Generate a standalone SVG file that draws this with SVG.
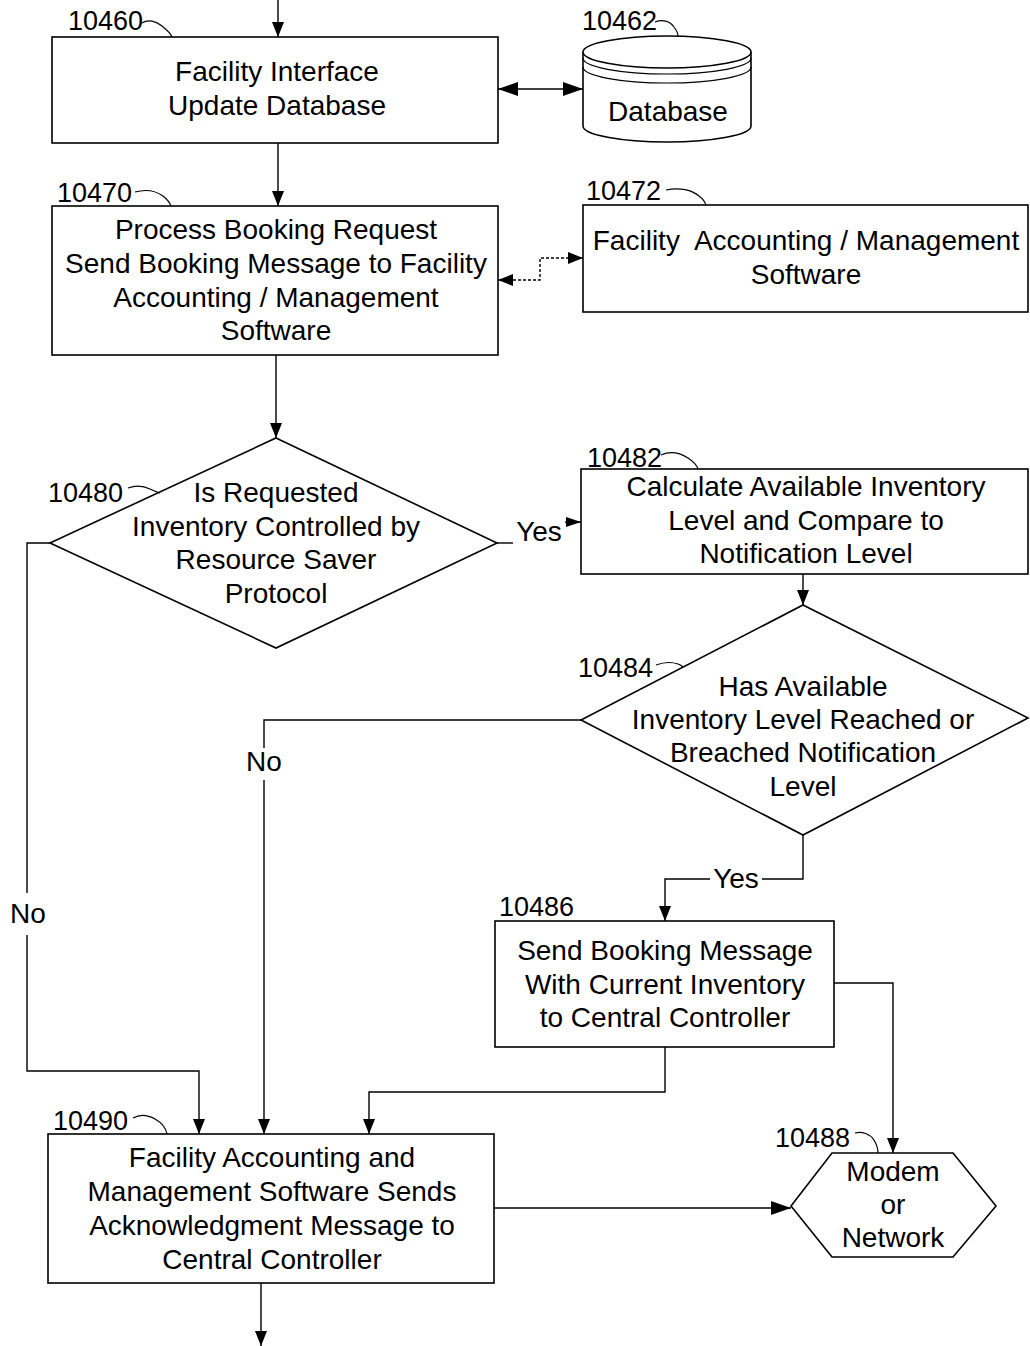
<svg xmlns="http://www.w3.org/2000/svg" width="1030" height="1346" viewBox="0 0 1030 1346">
<style>
.t{font-family:"Liberation Sans",Arial,sans-serif;font-size:28px;fill:#000;text-anchor:middle}
.lb{font-family:"Liberation Sans",Arial,sans-serif;font-size:27px;fill:#000}
.box{fill:#fff;stroke:#000;stroke-width:1.6}
.ln{fill:none;stroke:#000;stroke-width:1.4}
.tl{fill:none;stroke:#000;stroke-width:1.2}
.ar{marker-end:url(#ah)}
</style>
<defs>
<marker id="ah" viewBox="0 0 15 12" markerWidth="15" markerHeight="12" refX="15" refY="6" orient="auto-start-reverse" markerUnits="userSpaceOnUse"><path d="M0,0 L15,6 L0,12 z" fill="#000"/></marker>
<marker id="ahb" viewBox="0 0 20 14" markerWidth="20" markerHeight="14" refX="20" refY="7" orient="auto-start-reverse" markerUnits="userSpaceOnUse"><path d="M0,0 L20,7 L0,14 z" fill="#000"/></marker>
<marker id="ahs" viewBox="0 0 15 10" markerWidth="15" markerHeight="10" refX="15" refY="5" orient="auto" markerUnits="userSpaceOnUse"><path d="M0,0 L15,5 L0,10 z" fill="#000"/></marker>
</defs>
<rect width="1030" height="1346" fill="#fff"/>

<g id="connectors">
<path class="ln ar" d="M278,0 V37"/>
<path class="ln" d="M498,89 H583" stroke-width="2.4" marker-start="url(#ahb)" marker-end="url(#ahb)"/>
<path class="ln ar" d="M278,143 V206"/>
<path class="ln" d="M498,280 H540 V258 H583" stroke-dasharray="3,2" marker-start="url(#ah)" marker-end="url(#ah)"/>
<path class="ln ar" d="M276,355 V438"/>
<path class="ln" d="M497,543 H513"/>
<text class="t" x="539" y="541">Yes</text>
<path class="ln" d="M565,522 H581" marker-end="url(#ahs)"/>
<path class="ln" d="M50,543 H27 V893"/>
<text class="t" x="28" y="923">No</text>
<path class="ln ar" d="M27,935 V1071 H199 V1134"/>
<path class="ln ar" d="M803,574 V605"/>
<path class="ln" d="M581,720 H264 V748"/>
<text class="t" x="264" y="771">No</text>
<path class="ln ar" d="M264,780 V1134"/>
<path class="ln" d="M803,835 V879 H762"/>
<text class="t" x="736" y="888">Yes</text>
<path class="ln ar" d="M710,879 H665 V921"/>
<path class="ln ar" d="M665,1047 V1092 H369 V1134"/>
<path class="ln ar" d="M834,983 H893 V1153"/>
<path class="ln" d="M494,1208 H791" stroke-width="2" marker-end="url(#ahb)"/>
<path class="ln ar" d="M261,1283 V1346"/>
</g>

<g id="n10460">
<rect class="box" x="52" y="37" width="446" height="106"/>
<text class="t" x="277" y="81">Facility Interface</text>
<text class="t" x="277" y="115">Update Database</text>
<text class="lb" x="68" y="30">10460</text>
<path class="tl" d="M142,23 C148,19 156,21 162,26 C167,30 171,33 172,37"/>
</g>

<g id="n10462">
<path class="box" d="M583,52 V126 A84,16 0 0 0 751,126 V52"/>
<ellipse class="box" cx="667" cy="52" rx="84" ry="16"/>
<path class="tl" d="M583,58 A84,16 0 0 0 751,58"/>
<path class="tl" d="M583,67 A84,16 0 0 0 751,67"/>
<text class="t" x="668" y="121">Database</text>
<text class="lb" x="582" y="30">10462</text>
<path class="tl" d="M655,22 C662,19 670,21 674,27 C677,31 678,33 678,36"/>
</g>

<g id="n10470">
<rect class="box" x="52" y="206" width="446" height="149"/>
<text class="t" x="276" y="239">Process Booking Request</text>
<text class="t" x="276" y="273">Send Booking Message to Facility</text>
<text class="t" x="276" y="307">Accounting / Management</text>
<text class="t" x="276" y="340">Software</text>
<text class="lb" x="57" y="202">10470</text>
<path class="tl" d="M135,192 C146,189 156,191 163,196 C168,200 170,203 171,206"/>
</g>

<g id="n10472">
<rect class="box" x="583" y="205" width="445" height="107"/>
<text class="t" x="806" y="250" xml:space="preserve">Facility  Accounting / Management</text>
<text class="t" x="806" y="284">Software</text>
<text class="lb" x="586" y="200">10472</text>
<path class="tl" d="M666,190 C680,187 692,190 699,196 C703,199 705,202 706,205"/>
</g>

<g id="n10480">
<polygon class="box" points="276,438 497,543 276,648 50,543"/>
<text class="t" x="276" y="502">Is Requested</text>
<text class="t" x="276" y="536">Inventory Controlled by</text>
<text class="t" x="276" y="569">Resource Saver</text>
<text class="t" x="276" y="603">Protocol</text>
<text class="lb" x="48" y="502">10480</text>
<path class="tl" d="M128,488 C136,485 144,486 150,489 C154,491 157,492 160,493"/>
</g>

<g id="n10482">
<rect class="box" x="581" y="469" width="447" height="105"/>
<text class="t" x="806" y="496">Calculate Available Inventory</text>
<text class="t" x="806" y="530">Level and Compare to</text>
<text class="t" x="806" y="563">Notification Level</text>
<text class="lb" x="587" y="467">10482</text>
<path class="tl" d="M661,455 C670,451 680,453 688,458 C694,462 697,465 698,469"/>
</g>

<g id="n10484">
<polygon class="box" points="803,605 1028,718 803,835 581,720"/>
<text class="t" x="803" y="696">Has Available</text>
<text class="t" x="803" y="729">Inventory Level Reached or</text>
<text class="t" x="803" y="762">Breached Notification</text>
<text class="t" x="803" y="796">Level</text>
<text class="lb" x="578" y="677">10484</text>
<path class="tl" d="M656,665 C664,662 672,662 678,664 C681,665 682,666 683,667"/>
</g>

<g id="n10486">
<rect class="box" x="495" y="921" width="339" height="126"/>
<text class="t" x="665" y="960">Send Booking Message</text>
<text class="t" x="665" y="994">With Current Inventory</text>
<text class="t" x="665" y="1027">to Central Controller</text>
<text class="lb" x="499" y="916">10486</text>
</g>

<g id="n10490">
<rect class="box" x="48" y="1134" width="446" height="149"/>
<text class="t" x="272" y="1167">Facility Accounting and</text>
<text class="t" x="272" y="1201">Management Software Sends</text>
<text class="t" x="272" y="1235">Acknowledgment Message to</text>
<text class="t" x="272" y="1269">Central Controller</text>
<text class="lb" x="53" y="1130">10490</text>
<path class="tl" d="M133,1118 C140,1114 148,1115 155,1119 C162,1123 166,1128 167,1134"/>
</g>

<g id="n10488">
<polygon class="box" points="832,1153 953,1153 996,1206 953,1257 832,1257 791,1206"/>
<text class="t" x="893" y="1181">Modem</text>
<text class="t" x="893" y="1214">or</text>
<text class="t" x="893" y="1247">Network</text>
<text class="lb" x="775" y="1147">10488</text>
<path class="tl" d="M855,1133 C862,1131 870,1134 874,1140 C877,1145 878,1149 878,1153"/>
</g>
</svg>
